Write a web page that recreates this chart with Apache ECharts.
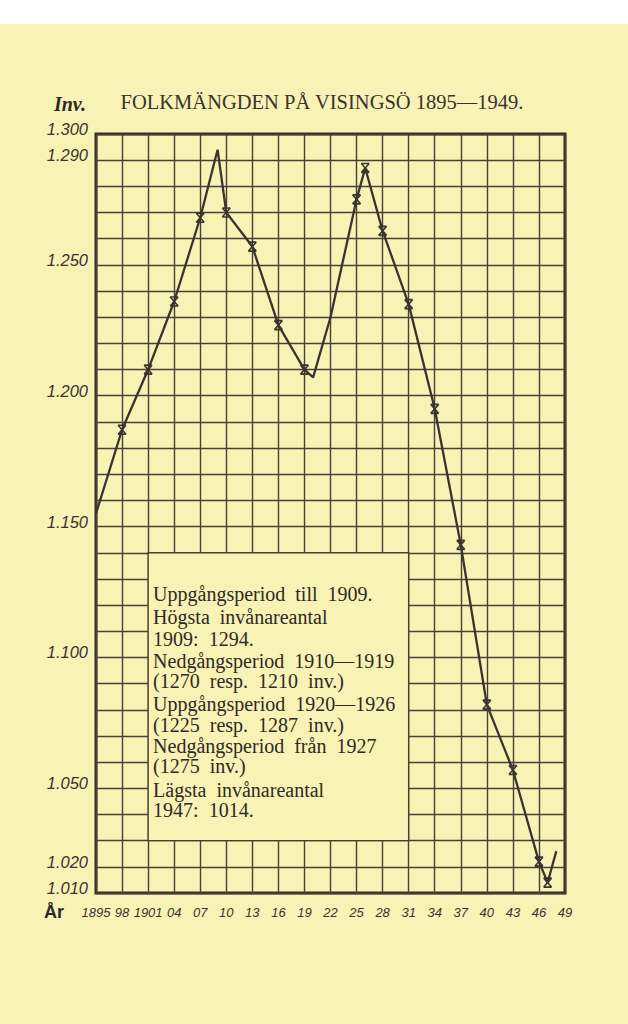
<!DOCTYPE html>
<html>
<head>
<meta charset="utf-8">
<script src="https://cdn.jsdelivr.net/npm/echarts@6/dist/echarts.min.js"></script>
<style>
  html, body { margin: 0; padding: 0; }
  body { width: 628px; height: 1024px; background: linear-gradient(#ffffff 0px, #ffffff 24px, #f9f2b5 24px, #f9f2b5 100%); }
  #chart { width: 628px; height: 1024px; }
</style>
</head>
<body>
<div id="chart"></div>
<script>
// ---- data ----
const baseYear = 1895;
const years = [1895, 1898, 1901, 1904, 1907, 1909, 1910, 1913, 1916, 1919, 1920, 1922, 1925, 1926, 1928, 1931, 1934, 1937, 1940, 1943, 1946, 1947, 1948];
const population = [1155, 1187, 1210, 1236, 1268, 1294, 1270, 1257, 1227, 1210, 1207, 1230, 1275, 1287, 1263, 1235, 1195, 1143, 1082, 1057, 1022, 1014, 1026];
const markedYears = [1898, 1901, 1904, 1907, 1910, 1913, 1916, 1919, 1925, 1926, 1928, 1931, 1934, 1937, 1940, 1943, 1946, 1947];
const xTickLabels = ['1895', '98', '1901', '04', '07', '10', '13', '16', '19', '22', '25', '28', '31', '34', '37', '40', '43', '46', '49'];
const yTickValues = [1300, 1290, 1250, 1200, 1150, 1100, 1050, 1020, 1010];
const yTickLabels = ['1.300', '1.290', '1.250', '1.200', '1.150', '1.100', '1.050', '1.020', '1.010'];
const noteYears = [1901, 1931];
const noteValues = [1030, 1140];
const noteLines = [
  'Uppgångsperiod  till  1909.',
  'Högsta  invånareantal',
  '1909:  1294.',
  'Nedgångsperiod  1910—1919',
  '(1270  resp.  1210  inv.)',
  'Uppgångsperiod  1920—1926',
  '(1225  resp.  1287  inv.)',
  'Nedgångsperiod  från  1927',
  '(1275  inv.)',
  'Lägsta  invånareantal',
  '1947:  1014.'
];
const titleText = 'FOLKMÄNGDEN PÅ VISINGSÖ 1895—1949.';
const yAxisName = 'Inv.';
const xAxisName = 'År';

// ---- styles ----
const paper = '#f9f2b5';
const gridInk = '#4a3f37';
const ink = '#3a3330';
const markerPath = 'path://M0,0L10,0M0,11L10,11M0,0L10,11M10,0L0,11';

const chart = echarts.init(document.getElementById('chart'), null, { renderer: 'svg' });

const seriesData = years.map((y, i) => ({
  value: [y - baseYear, population[i]],
  symbol: markedYears.includes(y) ? markerPath : 'none',
  symbolSize: [8, 9]
}));

chart.setOption({
  backgroundColor: 'transparent',
  animation: false,
  grid: {
    left: 96, top: 134, right: 63, bottom: 131,
    show: true, borderColor: '#352d28', borderWidth: 3, backgroundColor: 'transparent'
  },
  xAxis: {
    type: 'value', min: 0, max: 54, interval: 3,
    axisLine: { show: false }, axisTick: { show: false },
    splitLine: { show: true, lineStyle: { color: gridInk, width: 1.4 } },
    axisLabel: {
      margin: 13, color: ink, fontFamily: 'Liberation Sans', fontStyle: 'italic', fontSize: 13,
      formatter: v => xTickLabels[Math.round(v / 3)] || ''
    }
  },
  yAxis: {
    type: 'value', min: 1010, max: 1300, interval: 10,
    axisLine: { show: false }, axisTick: { show: false },
    splitLine: { show: true, lineStyle: { color: gridInk, width: 1.4 } },
    axisLabel: {
      margin: 8, color: ink, fontFamily: 'Liberation Sans', fontStyle: 'italic', fontSize: 16.5,
      verticalAlign: 'bottom', lineHeight: 10,
      formatter: v => { const k = yTickValues.indexOf(v); return k >= 0 ? yTickLabels[k] : ''; }
    }
  },
  series: [{
    type: 'line',
    silent: true,
    data: seriesData,
    showSymbol: true,
    showAllSymbol: true,
    lineStyle: { color: ink, width: 2.3 },
    itemStyle: { color: 'rgba(0,0,0,0)', borderColor: ink, borderWidth: 1.6 },
    markArea: {
      silent: true,
      itemStyle: { color: paper, borderColor: gridInk, borderWidth: 1.4, opacity: 1 },
      data: [[{ coord: [noteYears[0] - baseYear, noteValues[1]] }, { coord: [noteYears[1] - baseYear, noteValues[0]] }]]
    }
  }]
});

const boxTL = chart.convertToPixel({ gridIndex: 0 }, [noteYears[0] - baseYear, noteValues[1]]);
const lineOffsets = [41, 64, 86, 108, 128, 151, 172, 193, 213, 237, 257];
const graphics = noteLines.map((t, i) => ({
  type: 'text', silent: true, z: 100, zlevel: 0,
  style: {
    text: t, x: boxTL[0] + 5, y: boxTL[1] + lineOffsets[i],
    fill: '#2e2926', font: '20px "Liberation Serif"', align: 'left', verticalAlign: 'middle'
  }
}));
graphics.push({
  type: 'text', silent: true, z: 100,
  style: { text: titleText, x: 322, y: 102, fill: ink, font: '20.5px "Liberation Serif"', align: 'center', verticalAlign: 'middle' }
});
graphics.push({
  type: 'text', silent: true, z: 100,
  style: { text: yAxisName, x: 86, y: 104, fill: '#2e2926', font: 'italic bold 20px "Liberation Serif"', align: 'right', verticalAlign: 'middle' }
});
graphics.push({
  type: 'text', silent: true, z: 100,
  style: { text: xAxisName, x: 44, y: 912, fill: '#2e2926', font: 'bold 18px "Liberation Sans"', align: 'left', verticalAlign: 'middle' }
});
chart.setOption({ graphic: graphics });
</script>
</body>
</html>
